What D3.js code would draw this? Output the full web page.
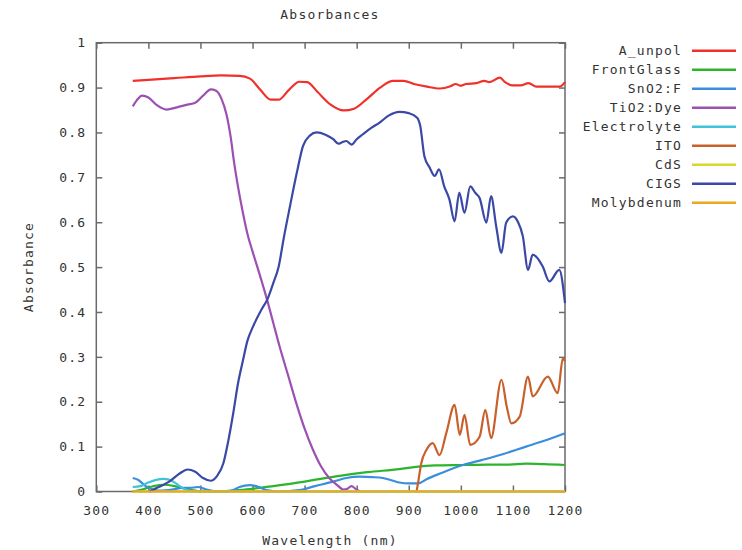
<!DOCTYPE html>
<html>
<head>
<meta charset="utf-8">
<script src="https://cdn.jsdelivr.net/npm/d3@7"></script>
<style>
  body { margin: 0; background: #fff; }
  text { font-family: "DejaVu Sans Mono", monospace; font-size: 13px; fill: #333; letter-spacing: 1.2px; }
</style>
</head>
<body>
<div id="chart"></div>
<script>
// series, in legend / draw order
const seriesNames = ["A_unpol", "FrontGlass", "SnO2:F", "TiO2:Dye", "Electrolyte", "ITO", "CdS", "CIGS", "Molybdenum"];
const seriesColours = ["#f0302a", "#2cb52c", "#3a8edc", "#9b50b2", "#3ec3d8", "#c9602c", "#d9d62e", "#3a48a6", "#e9a923"];

const xTicks = [300, 400, 500, 600, 700, 800, 900, 1000, 1100, 1200];
const yTicks = [0, 0.1, 0.2, 0.3, 0.4, 0.5, 0.6, 0.7, 0.8, 0.9, 1];

// [wavelength nm, absorbance]
const aUnpol = [[370,0.915],[400,0.917],[450,0.921],[500,0.925],[540,0.927],[575,0.926],[595,0.92],[615,0.895],[635,0.873],[650,0.873],[670,0.895],[690,0.913],[705,0.912],[725,0.89],[750,0.862],[775,0.849],[795,0.853],[820,0.875],[845,0.9],[870,0.915],[890,0.915],[910,0.908],[935,0.902],[960,0.898],[980,0.903],[990,0.908],[1000,0.904],[1010,0.908],[1030,0.91],[1045,0.915],[1055,0.912],[1075,0.922],[1085,0.912],[1100,0.905],[1115,0.905],[1130,0.91],[1145,0.902],[1170,0.902],[1190,0.902],[1200,0.912]];
const frontGlass = [[370,0],[390,0.005],[410,0.012],[430,0.015],[450,0.012],[470,0.006],[490,0.002],[510,0],[540,0],[560,0.002],[600,0.006],[640,0.012],[700,0.022],[767,0.035],[820,0.043],[882,0.05],[914,0.055],[950,0.058],[1004,0.059],[1050,0.06],[1093,0.06],[1125,0.062],[1160,0.061],[1200,0.059]];
const sno2 = [[370,0.03],[380,0.026],[395,0.012],[410,0.004],[425,0.002],[445,0.004],[465,0.008],[480,0.008],[495,0.01],[510,0.005],[525,0.001],[545,0],[560,0.002],[575,0.01],[595,0.014],[612,0.01],[627,0.003],[650,0],[690,0.003],[720,0.012],[755,0.022],[780,0.03],[806,0.033],[830,0.032],[850,0.03],[870,0.024],[882,0.02],[900,0.018],[918,0.018],[935,0.028],[960,0.04],[1004,0.059],[1040,0.07],[1080,0.083],[1125,0.1],[1160,0.113],[1200,0.13]];
const tio2Dye = [[370,0.858],[378,0.872],[388,0.882],[400,0.878],[415,0.862],[435,0.851],[455,0.856],[475,0.862],[490,0.866],[505,0.882],[520,0.896],[530,0.893],[540,0.876],[550,0.84],[558,0.79],[565,0.73],[572,0.68],[580,0.63],[590,0.575],[600,0.535],[612,0.49],[628,0.427],[640,0.375],[652,0.323],[668,0.26],[684,0.197],[700,0.14],[716,0.093],[732,0.055],[748,0.029],[762,0.015],[775,0.004],[782,0.006],[790,0.012],[798,0.006],[806,0]];
const electrolyte = [[370,0.01],[385,0.012],[400,0.02],[415,0.026],[430,0.028],[445,0.024],[460,0.012],[475,0.003],[490,0],[1200,0]];
const ito = [[915,0],[918,0.02],[924,0.063],[934,0.093],[946,0.108],[959,0.081],[972,0.13],[988,0.193],[998,0.126],[1007,0.171],[1018,0.104],[1036,0.122],[1047,0.182],[1058,0.119],[1078,0.249],[1088,0.19],[1097,0.152],[1113,0.167],[1129,0.256],[1138,0.212],[1167,0.256],[1186,0.219],[1196,0.297],[1200,0.29]];
const cds = [[370,0],[1200,0]];
const cigs = [[402,0],[420,0.01],[440,0.022],[460,0.04],[475,0.049],[490,0.044],[505,0.03],[520,0.024],[532,0.035],[544,0.063],[553,0.11],[563,0.175],[572,0.24],[582,0.294],[590,0.335],[600,0.365],[617,0.405],[628,0.427],[640,0.465],[650,0.5],[660,0.565],[672,0.636],[685,0.71],[697,0.77],[710,0.793],[723,0.8],[740,0.795],[755,0.785],[765,0.775],[772,0.778],[780,0.781],[790,0.773],[800,0.785],[812,0.796],[828,0.81],[844,0.822],[862,0.838],[882,0.846],[900,0.843],[916,0.833],[922,0.815],[930,0.747],[940,0.722],[950,0.703],[958,0.718],[968,0.68],[978,0.651],[988,0.602],[997,0.666],[1007,0.621],[1018,0.68],[1028,0.665],[1036,0.654],[1049,0.599],[1058,0.658],[1068,0.59],[1078,0.532],[1087,0.599],[1100,0.613],[1110,0.6],[1119,0.569],[1129,0.494],[1138,0.528],[1157,0.502],[1170,0.468],[1189,0.494],[1200,0.42]];
const molybdenum = [[370,0],[1200,0]];

const seriesData = [aUnpol, frontGlass, sno2, tio2Dye, electrolyte, ito, cds, cigs, molybdenum];

const width = 742, height = 550;
const margin = { top: 42.7, right: 742 - 565, bottom: 550 - 491.5, left: 96.3 };

const svg = d3.select("#chart").append("svg")
  .attr("width", width)
  .attr("height", height);

const x = d3.scaleLinear()
  .domain([300, 1200])
  .range([margin.left, width - margin.right]);
const y = d3.scaleLinear()
  .domain([0, 1])
  .range([height - margin.bottom, margin.top]);

// ticks, inside on all four sides
const tickLen = 6;
const axisColour = "#6a6a6a";

svg.append("g")
  .attr("transform", "translate(0," + y(0) + ")")
  .call(d3.axisBottom(x).tickValues(xTicks).tickSize(-tickLen).tickPadding(14).tickFormat(d3.format("d")))
  .call(g => g.select(".domain").remove());
svg.append("g")
  .attr("transform", "translate(0," + y(1) + ")")
  .call(d3.axisTop(x).tickValues(xTicks).tickSize(-tickLen).tickFormat(""))
  .call(g => g.select(".domain").remove());
svg.append("g")
  .attr("transform", "translate(" + x(300) + ",0)")
  .call(d3.axisLeft(y).tickValues(yTicks).tickSize(-tickLen).tickPadding(10).tickFormat(d => d3.format("")(+d.toFixed(1))))
  .call(g => g.select(".domain").remove());
svg.append("g")
  .attr("transform", "translate(" + x(1200) + ",0)")
  .call(d3.axisRight(y).tickValues(yTicks).tickSize(-tickLen).tickFormat(""))
  .call(g => g.select(".domain").remove());

svg.selectAll(".tick line").attr("stroke", axisColour).attr("stroke-width", 1.5);
svg.selectAll(".tick text").style("font-size", "13px").attr("fill", "#3a3a3a");

// plot frame
svg.append("rect")
  .attr("x", x(300))
  .attr("y", y(1))
  .attr("width", x(1200) - x(300))
  .attr("height", y(0) - y(1))
  .attr("fill", "none")
  .attr("stroke", axisColour)
  .attr("stroke-width", 1.5);

// lines
const line = d3.line()
  .x(d => x(d[0]))
  .y(d => y(d[1]))
  .curve(d3.curveMonotoneX);

svg.append("g")
  .selectAll("path")
    .data(seriesData)
  .enter().append("path")
    .attr("d", line)
    .attr("fill", "none")
    .attr("stroke", (d, i) => seriesColours[i])
    .attr("stroke-width", 2.2)
    .attr("stroke-linejoin", "round");

// legend
const legend = svg.append("g")
  .selectAll("g")
    .data(seriesNames)
  .enter().append("g")
    .attr("transform", (d, i) => "translate(0," + (50.7 + i * 19) + ")");

legend.append("text")
  .attr("x", 682)
  .attr("dy", "0.35em")
  .attr("text-anchor", "end")
  .text(d => d);

legend.append("line")
  .attr("x1", 692)
  .attr("x2", 736)
  .attr("stroke", (d, i) => seriesColours[i])
  .attr("stroke-width", 2.5);

// titles
svg.append("text")
  .attr("x", 330)
  .attr("y", 19)
  .attr("text-anchor", "middle")
  .text("Absorbances");

svg.append("text")
  .attr("x", 330)
  .attr("y", 545)
  .attr("text-anchor", "middle")
  .text("Wavelength (nm)");

svg.append("text")
  .attr("transform", "translate(33,267) rotate(-90)")
  .attr("text-anchor", "middle")
  .text("Absorbance");
</script>
</body>
</html>
